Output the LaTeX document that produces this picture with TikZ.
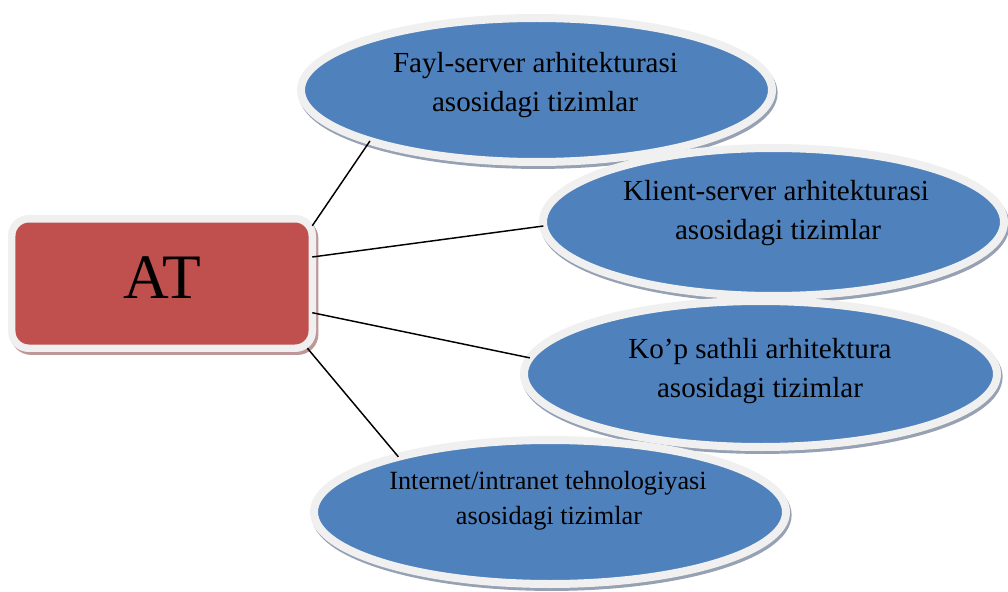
\documentclass[tikz,border=0pt]{standalone}
\usepackage{fontspec}
\setmainfont{Liberation Serif}
\usetikzlibrary{shapes.geometric}
\definecolor{eblue}{HTML}{4F81BD}
\definecolor{bred}{HTML}{C0504D}
\definecolor{ring}{HTML}{F0F0F0}
\definecolor{eshadow}{HTML}{96A1B4}
\definecolor{bshadow}{HTML}{BE9898}
\begin{document}
\begin{tikzpicture}[x=0.75pt,y=-0.75pt,
  oval/.style={ellipse, fill=eblue, draw=ring, line width=6pt, inner sep=0pt, outer sep=0pt,
    preaction={draw=eshadow, fill=eshadow, transform canvas={xshift=1.2pt, yshift=-2.2pt}}},
  atbox/.style={rectangle, rounded corners=12.75pt, fill=bred, draw=ring, line width=5.6pt,
    inner sep=0pt, outer sep=0pt, minimum width=225.4pt, minimum height=97.1pt,
    preaction={draw=bshadow, fill=bshadow, transform canvas={xshift=1.8pt, yshift=-2.2pt}}},
  txt/.style={anchor=base, inner sep=0pt, font=\fontsize{21.8pt}{26pt}\selectfont},
  txts/.style={anchor=base, inner sep=0pt, font=\fontsize{19.7pt}{24pt}\selectfont},
  link/.style={draw=black, line width=1.1pt}]
\useasboundingbox (0,0) rectangle (1008,592);
\fill[white] (0,0) rectangle (1008,592);

\node[atbox] (box) at (162,283.5) {};
\node[anchor=base, inner sep=0pt, font=\fontsize{47.5pt}{50pt}\selectfont] (at) at (162,298) {AT};

\node[oval, minimum width=353.25pt, minimum height=108pt] (e1) at (536.5,90) {};
\node[oval, minimum width=345.75pt, minimum height=111pt] (e2) at (773.5,222) {};
\node[oval, minimum width=354.75pt, minimum height=109.5pt] (e3) at (760.5,374) {};
\node[oval, minimum width=354pt, minimum height=108pt] (e4) at (550,512) {};

\node[txt] (t1a) at (535.5,73) {Fayl-server arhitekturasi};
\node[txt] (t1b) at (535,112) {asosidagi tizimlar};
\node[txt] (t2a) at (776,200) {Klient-server arhitekturasi};
\node[txt] (t2b) at (778,239) {asosidagi tizimlar};
\node[txt] (t3a) at (760,358) {Ko’p sathli arhitektura};
\node[txt] (t3b) at (760,397) {asosidagi tizimlar};
\node[txts] (t4a) at (548,489) {Internet/intranet tehnologiyasi};
\node[txts] (t4b) at (549,524) {asosidagi tizimlar};

\draw[link] (box.21.6) -- (e1.197.9);
\draw[link] (box.10.8) -- (e2.181.2);
\draw[link] (box.349.2) -- (e3.176.8);
\draw[link] (box.336.4) -- (e4.160.1);
\end{tikzpicture}
\end{document}
